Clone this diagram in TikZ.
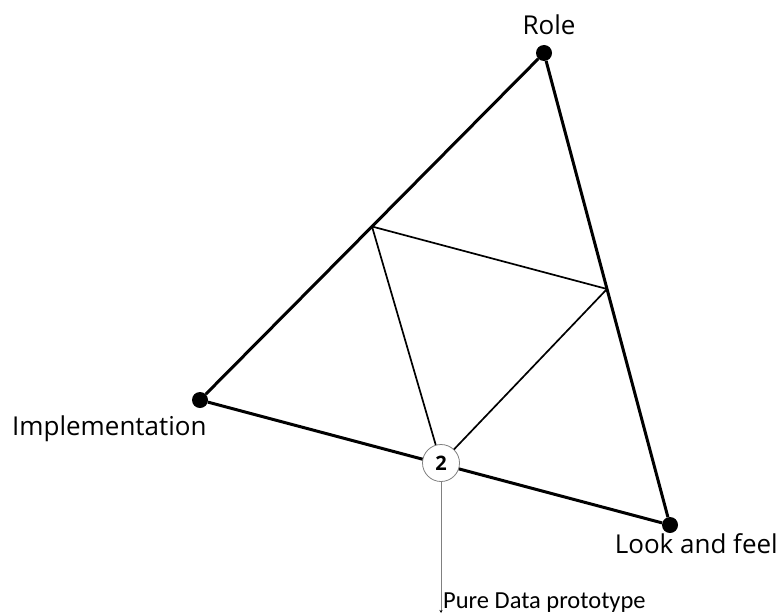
\documentclass[tikz,border=0pt]{standalone}
\usepackage{fontspec}
\setmainfont{Open Sans}
\newfontfamily\calfont{Carlito}
\usetikzlibrary{arrows.meta,calc}
\begin{document}
\begin{tikzpicture}[x=1pt,y=-1pt,
  vdot/.style={circle,fill=black,inner sep=0pt,minimum size=16pt},
  lbl/.style={font=\fontsize{26}{30}\selectfont,inner sep=0pt},
  thickedge/.style={line width=3pt},
  thinedge/.style={line width=1.7pt}]
\useasboundingbox (0,0) rectangle (783,615);
\node[vdot] (R) at (544,53) {};
\node[vdot] (I) at (200,400) {};
\node[vdot] (L) at (670,525) {};
\coordinate (A) at ($(R)!0.5!(I)$);
\coordinate (B) at ($(R)!0.5!(L)$);
\draw[thickedge] (R) -- (I);
\draw[thickedge] (R) -- (L);
\draw[thickedge] (I) -- (L);
\draw[thinedge] (A) -- (B);
\node[circle,draw=gray,fill=white,line width=0.8pt,minimum size=37pt,inner sep=0pt,font=\bfseries\fontsize{20}{22}\selectfont] (C) at (441,463) {2};
\draw[thinedge] (A) -- (C);
\draw[thinedge] (B) -- (C);
\node[lbl,anchor=base] (tR) at (549,35) {Role};
\node[lbl,anchor=base west] (tI) at (12,435) {Implementation};
\node[lbl,anchor=base east] (tL) at (778,553) {Look and feel};
\node[anchor=base west,inner sep=0pt,font=\calfont\fontsize{24.5}{28}\selectfont] (tP) at (443,608) {Pure Data prototype};
\coordinate (P) at (441,613);
\draw[gray,line width=0.8pt,-{Stealth[length=3pt,width=3pt,black]}] (C) -- (P);
\end{tikzpicture}
\end{document}
